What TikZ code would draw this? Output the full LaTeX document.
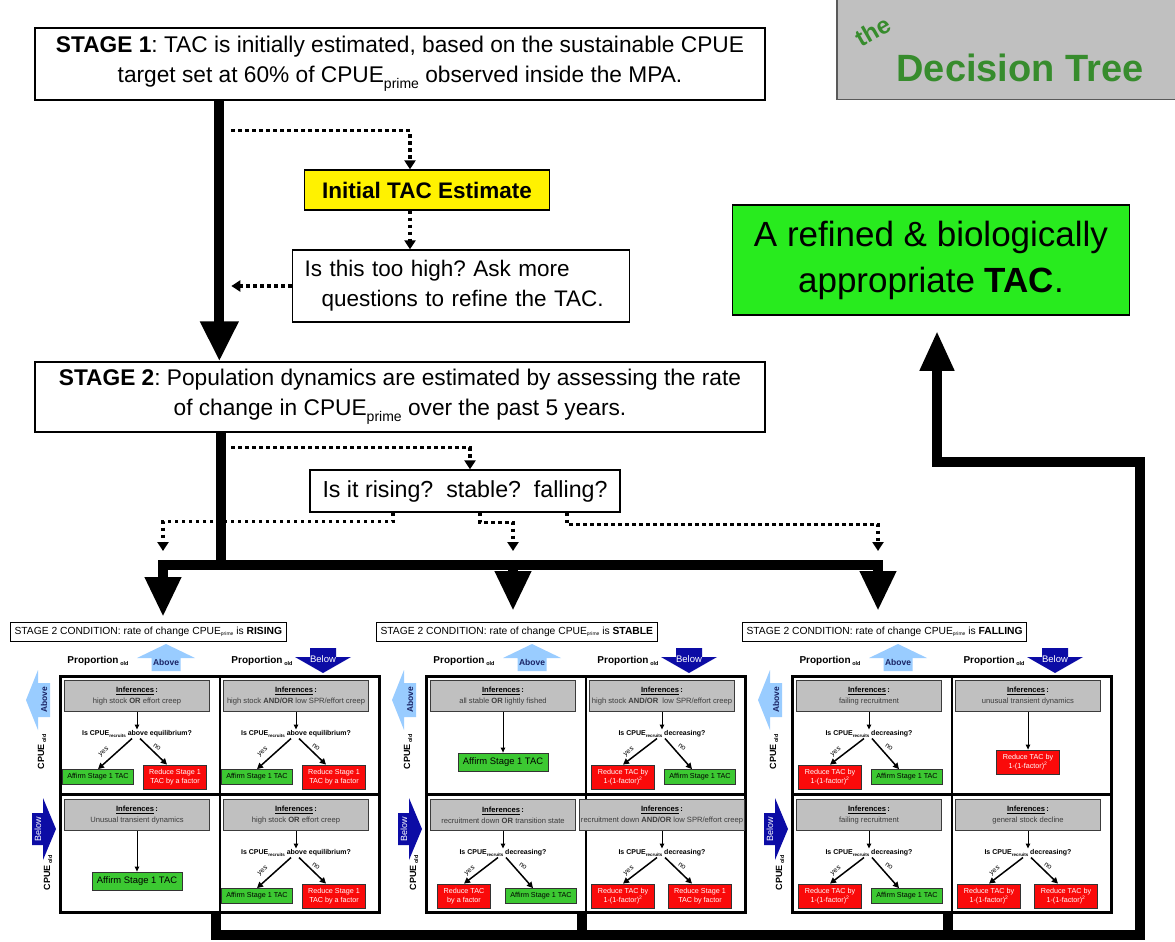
\documentclass[tikz,border=0pt]{standalone}
\usepackage{fontspec}
\setmainfont{Liberation Sans}
\usetikzlibrary{calc,arrows.meta}
\frenchspacing
\definecolor{lblue}{RGB}{153,204,255}
\definecolor{dblue}{RGB}{12,12,165}
\definecolor{navy}{RGB}{25,35,100}
\definecolor{infgray}{RGB}{192,192,192}
\definecolor{infedge}{RGB}{60,60,60}
\definecolor{infText}{RGB}{60,60,60}
\definecolor{resgreen}{RGB}{60,200,50}
\definecolor{resred}{RGB}{250,10,10}
\definecolor{biggreen}{RGB}{40,235,30}
\definecolor{dtgreen}{RGB}{55,140,45}
\definecolor{dtgray}{RGB}{192,192,192}
\newcommand{\subx}[3]{\raisebox{#3}{\fontsize{#1}{#1}\selectfont #2}}
\newcommand{\fs}[2]{\fontsize{#1}{#2}\selectfont}
\newcommand{\rec}{\subx{4.5}{recruits}{-1.5pt}}
\newcommand{\fsq}{1-(1-factor)\textsuperscript{2}}
\tikzset{
  bigbox/.style={draw, line width=1.3pt, fill=white, align=center, font=\fs{22.7}{30}, inner sep=0pt},
  thickln/.style={line width=10pt, line join=miter},
  thickarr/.style={thickln, -{Triangle[width=34pt,length=40pt]}},
  dotln/.style={line width=3.5pt, dash pattern=on 3.5pt off 3.5pt},
  dotarr/.style={dotln, -{Triangle[width=11pt,length=9pt]}},
  infbox/.style={draw=infedge, fill=infgray, line width=1pt, minimum width=145pt, minimum height=31pt, align=center, font=\fs{7.6}{11}, inner sep=1pt},
  qtext/.style={font=\bfseries\fs{7}{8}, inner sep=1pt},
  gres/.style={draw=black!80, fill=resgreen, line width=0.8pt, font=\fs{7.2}{9.5}, minimum width=71pt, minimum height=15pt, inner sep=1pt, align=center},
  rres/.style={draw=black!80, fill=resred, text=white, line width=0.8pt, font=\fs{7.2}{9.5}, minimum width=63pt, minimum height=24pt, inner sep=1pt, align=center},
  bgres/.style={gres, font=\fs{9.4}{11}, minimum width=90pt, minimum height=18pt},
  thinarr/.style={line width=1pt, -{Triangle[width=4.5pt,length=5pt]}},
  brarr/.style={line width=1.5pt, -{Triangle[width=6pt,length=6pt]}},
  brlab/.style={font=\fs{7}{7}, inner sep=0pt},
  ptitle/.style={draw, line width=1pt, fill=white, font=\fs{10.3}{10.3}, minimum height=19pt, inner xsep=4pt, inner ysep=0pt},
  proplab/.style={font=\fs{10}{10}, inner sep=0pt},
}
\newcommand{\qcell}[8]{%
  \begin{scope}[shift={(#2)}]
    \node[infbox] (#1i) at (78,21) {\underline{\textbf{Inferences}}\,\textbf{:}\\\textcolor{infText}{#3}};
    \node[qtext] (#1q) at (78,59) {#4};
    \draw[thinarr] (#1i.south) -- (#1q.north);
    \node[#5] (#1l) at (39,102) {#6};
    \node[#7] (#1r) at (116,102) {#8};
    \draw[brarr] ($(#1q.south)+(-5,0)$) -- (#1l.north);
    \draw[brarr] ($(#1q.south)+(3,0)$) -- ($(#1r.north)+(-8,0)$);
    \node[brlab, rotate=38] (#1y) at (45,77) {yes};
    \node[brlab, rotate=-35] (#1n) at (98,72) {no};
  \end{scope}}
\newcommand{\scell}[5]{%
  \begin{scope}[shift={(#2)}]
    \node[infbox] (#1i) at (78,21) {\underline{\textbf{Inferences}}\,\textbf{:}\\\textcolor{infText}{#3}};
    \node[#4] (#1r) at (78,87) {#5};
    \draw[thinarr] (#1i.south) -- (#1r.north);
  \end{scope}}
\newcommand{\panel}[3]{%
  \begin{scope}[shift={(#2,675)}]
    \node[ptitle, anchor=west] (#1t) at (-49,-43) {STAGE 2 CONDITION: rate of change CPUE\subx{5}{prime}{-1.5pt} is \textbf{#3}};
    \node[proplab] (#1p1) at (39,-14) {\textbf{Proportion}\,\subx{5.5}{\textbf{old}}{-2.5pt}};
    \node[proplab] (#1p2) at (203,-14) {\textbf{Proportion}\,\subx{5.5}{\textbf{old}}{-2.5pt}};
    \fill[lblue] (107,-31) -- (136,-17) -- (121.5,-17) -- (121.5,-4) -- (92.5,-4) -- (92.5,-17) -- (78,-17) -- cycle;
    \node[font=\bfseries\fs{8.5}{8.5}, text=navy, inner sep=0pt] (#1a1) at (107,-13) {Above};
    \fill[dblue] (251,-27) -- (277,-27) -- (277,-18) -- (292,-18) -- (264,-2) -- (236,-18) -- (251,-18) -- cycle;
    \node[font=\fs{9.5}{9.5}, text=white, inner sep=0pt] (#1b1) at (264,-16) {Below};
    \fill[lblue] (-33,25) -- (-21,-5) -- (-21,8) -- (-9,8) -- (-9,42) -- (-21,42) -- (-21,55) -- cycle;
    \node[rotate=90, font=\bfseries\fs{8.5}{8.5}, text=navy, inner sep=0pt] (#1a2) at (-15,25) {Above};
    \node[rotate=90, font=\bfseries\fs{9}{9}, inner sep=0pt] (#1c1) at (-17,77) {CPUE\,\subx{5.5}{old}{-2pt}};
    \fill[dblue] (-3,154) -- (-16,185) -- (-16,170) -- (-27,170) -- (-27,138) -- (-16,138) -- (-16,123) -- cycle;
    \node[rotate=90, font=\fs{9}{9}, text=white, inner sep=0pt] (#1b2) at (-21,154) {Below};
    \node[rotate=90, font=\bfseries\fs{9}{9}, inner sep=0pt] (#1c2) at (-11,198) {CPUE\,\subx{5.5}{old}{-2pt}};
    \node[draw, line width=2.5pt, minimum width=319pt, minimum height=236pt, anchor=north west, inner sep=0pt] (#1g) at (0,0) {};
    \draw[line width=2.5pt] (#1g.north) -- (#1g.south);
    \draw[line width=2.5pt] (#1g.west) -- (#1g.east);
  \end{scope}}
\begin{document}
\begin{tikzpicture}[x=1pt,y=-1pt]
\useasboundingbox (0,0) rectangle (1175,942);
\clip (0,0) rectangle (1175,942);
\fill[white] (0,0) rectangle (1175,942);

% ---- top part
\node[bigbox, minimum width=730pt, minimum height=72pt] (s1) at (400,64) {\textbf{STAGE 1}: TAC is initially estimated, based on the sustainable CPUE\\target set at 60\% of CPUE\subx{14}{prime}{-6pt} observed inside the MPA.};
\node[draw=gray!70!black, fill=dtgray, line width=1.5pt, minimum width=360pt, minimum height=130pt, anchor=south west, inner sep=0pt] (dtb) at (836,100) {};
\node[font=\bfseries\fs{38}{38}, text=dtgreen] (dt) at (1020,68) {Decision Tree};
\node[font=\bfseries\fs{24}{24}, text=dtgreen, rotate=30] (the) at (873,31) {the};
\node[draw, line width=1.3pt, fill=yellow, minimum width=245pt, minimum height=40pt, font=\bfseries\fs{22.5}{22.5}] (itac) at (427,190) {Initial TAC Estimate};
\node[draw, line width=1.3pt, fill=white, minimum width=337pt, minimum height=72pt, text width=313pt, align=left, font=\fs{22.5}{30}] (toohigh) at (461,286) {Is this too high? Ask more\\\hspace*{17pt}questions to refine the TAC.};
\node[draw, line width=1.5pt, fill=biggreen, minimum width=397pt, minimum height=110pt, align=center, font=\fs{35}{46}] (refd) at (931,260) {A refined \& biologically\\appropriate \textbf{TAC}.};
\node[bigbox, minimum width=730pt, minimum height=70pt] (s2) at (400,397) {\textbf{STAGE 2}: Population dynamics are estimated by assessing the rate\\of change in CPUE\subx{14}{prime}{-6pt} over the past 5 years.};
\node[draw, line width=1.3pt, fill=white, minimum width=310pt, minimum height=42pt, font=\fs{23.2}{23.2}] (ris) at (465,491) {Is it rising?\ \ stable?\ \ falling?};

% ---- panels
\panel{pA}{59}{RISING}
\panel{pB}{425}{STABLE}
\panel{pC}{791}{FALLING}

\qcell{atl}{59,675}{high stock \textbf{OR} effort creep}{Is CPUE\rec{} above equilibrium?}{gres}{Affirm Stage 1 TAC}{rres}{Reduce Stage 1\\TAC by a factor}
\qcell{atr}{218,675}{high stock \textbf{AND/OR} low SPR/effort creep}{Is CPUE\rec{} above equilibrium?}{gres}{Affirm Stage 1 TAC}{rres}{Reduce Stage 1\\TAC by a factor}
\scell{abl}{59,794}{Unusual transient dynamics}{bgres}{Affirm Stage 1 TAC}
\qcell{abr}{218,794}{high stock \textbf{OR} effort creep}{Is CPUE\rec{} above equilibrium?}{gres}{Affirm Stage 1 TAC}{rres}{Reduce Stage 1\\TAC by a factor}

\scell{btl}{425,675}{all stable \textbf{OR} lightly fished}{bgres}{Affirm Stage 1 TAC}
\qcell{btr}{584,675}{high stock \textbf{AND/OR}\ \ low SPR/effort creep}{Is CPUE\rec{} decreasing?}{rres}{Reduce TAC by\\\fsq}{gres}{Affirm Stage 1 TAC}
\qcell{bbl}{425,794}{recruitment down \textbf{OR} transition state}{Is CPUE\rec{} decreasing?}{rres, minimum width=53pt}{Reduce TAC\\by a factor}{gres}{Affirm Stage 1 TAC}
\qcell{bbr}{584,794}{recruitment down \textbf{AND/OR} low SPR/effort creep}{Is CPUE\rec{} decreasing?}{rres}{Reduce TAC by\\\fsq}{rres}{Reduce Stage 1\\TAC by factor}

\qcell{ctl}{791,675}{failing recruitment}{Is CPUE\rec{} decreasing?}{rres}{Reduce TAC by\\\fsq}{gres}{Affirm Stage 1 TAC}
\scell{ctr}{950,675}{unusual transient dynamics}{rres}{Reduce TAC by\\\fsq}
\qcell{cbl}{791,794}{failing recruitment}{Is CPUE\rec{} decreasing?}{rres}{Reduce TAC by\\\fsq}{gres}{Affirm Stage 1 TAC}
\qcell{cbr}{950,794}{general stock decline}{Is CPUE\rec{} decreasing?}{rres}{Reduce TAC by\\\fsq}{rres}{Reduce TAC by\\\fsq}

% ---- connectors top
\coordinate (a1) at ($(s1.south west)+(185,0)$);
\draw[thickln, -{Triangle[width=36pt,length=40pt]}] (a1) -- (a1 |- s2.north);
\coordinate (d0) at ($(s1.south west)+(197,30)$);
\coordinate (d1n) at ($(itac.north)+(-17,0)$);
\coordinate (d1s) at ($(itac.south)+(-17,0)$);
\draw[dotarr] (d0) -| (d1n);
\draw[dotarr] (d1s) -- (d1s |- toohigh.north);
\draw[dotarr] (toohigh.west) -- (d0 |- toohigh.west);

% ---- connectors stage 2
\coordinate (barL) at (163,565);
\coordinate (barM) at (513,565);
\coordinate (barR) at (878,565);
\coordinate (b1) at ($(s2.south west)+(187,0)$);
\draw[thickln] (b1) -- (b1 |- barL);
\draw[thickln, {Triangle[width=34pt,length=40pt]}-{Triangle[width=34pt,length=40pt]}] ($(barL |- pAt.north)+(0,-5)$) -- (barL) -- (barR) -- ($(barR |- pCt.north)+(0,-11)$);
\draw[thickarr] (barM) -- ($(barM |- pBt.north)+(0,-11)$);
\coordinate (e0) at ($(s2.south west)+(197,15)$);
\coordinate (e1) at ($(ris.north)+(5,0)$);
\draw[dotarr] (e0) -| (e1);
\coordinate (g1) at ($(barL)+(0,-14)$);
\coordinate (g2) at ($(barM)+(0,-14)$);
\coordinate (g3) at ($(barR)+(0,-14)$);
\coordinate (f1) at ($(ris.south)+(-72,0)$);
\coordinate (f2) at ($(ris.south)+(15,0)$);
\coordinate (f3) at ($(ris.south)+(102,0)$);
\draw[dotarr] (f1) -- ++(0,9) -| (g1);
\draw[dotarr] (f2) -- ++(0,10) -| (g2);
\draw[dotarr] (f3) -- ++(0,12) -| (g3);

% ---- return path
\coordinate (rA) at ($(pAg.south west)+(157,0)$);
\coordinate (rB) at ($(pBg.south west)+(157,0)$);
\coordinate (rC) at ($(pCg.south west)+(157,0)$);
\coordinate (rbot) at (1140,935);
\coordinate (rtop) at (1140,462);
\coordinate (rtip) at ($(refd.south)+(6,15)$);
\draw[thickln, -{Triangle[width=32pt,length=40pt]}] (rA) |- (rbot) -- (rtop) -| (rtip);
\draw[thickln] (rB) -- (rB |- rbot);
\draw[thickln] (rC) -- (rC |- rbot);
\end{tikzpicture}
\end{document}
